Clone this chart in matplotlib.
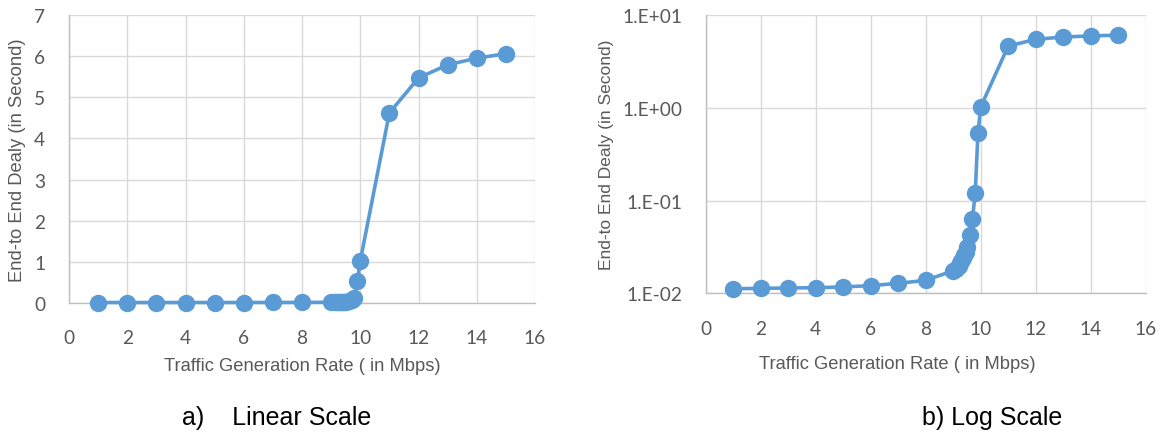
import matplotlib
matplotlib.use("Agg")
import math
import matplotlib.pyplot as plt
from matplotlib.ticker import FixedLocator, FuncFormatter

# traffic rate (Mbps) and end-to-end delay (s)
rate = [1, 2, 3, 4, 5, 6, 7, 8,
        9.0, 9.1, 9.2, 9.25, 9.3, 9.35, 9.4, 9.45, 9.5,
        9.6, 9.7, 9.8, 9.9, 10.0,
        11, 12, 13, 14, 15]
delay = [0.0112, 0.0113, 0.0114, 0.0115, 0.0117, 0.0121, 0.0128, 0.0138,
         0.0175, 0.0185, 0.0198, 0.021, 0.0222, 0.0238, 0.0256, 0.0282, 0.0313,
         0.0425, 0.063, 0.12, 0.53, 1.02,
         4.62, 5.47, 5.79, 5.95, 6.06]

xticks = [0, 2, 4, 6, 8, 10, 12, 14, 16]
lin_ticks = [0, 1, 2, 3, 4, 5, 6, 7]
log_ticks = [0.01, 0.1, 1, 10]

blue = "#5b9bd5"
grid = "#d9d9d9"
txt = "#595959"
tickfont = "Lato"
labfont = "Liberation Sans"

fig = plt.figure(figsize=(11.66, 4.35), dpi=100)
ax1 = fig.add_axes([0.05918, 0.30115, 0.39966, 0.66207])
ax2 = fig.add_axes([0.60523, 0.32345, 0.37736, 0.63977])


def style(ax):
    ax.set_xlim(0, 16)
    ax.xaxis.set_major_locator(FixedLocator(xticks))
    ax.grid(True, color=grid, linewidth=1.0)
    ax.set_axisbelow(True)
    for s in ["top", "right"]:
        ax.spines[s].set_visible(False)
    for s in ["left", "bottom"]:
        ax.spines[s].set_color("#bfbfbf")
        ax.spines[s].set_linewidth(1.0)
    ax.tick_params(length=0, labelcolor=txt, labelsize=13.8)
    ax.tick_params(axis="y", pad=17)
    ax.tick_params(axis="x", pad=19)
    for lab in ax.get_xticklabels() + ax.get_yticklabels():
        lab.set_fontfamily(tickfont)
    ax.plot(rate, delay, "-o", color=blue, linewidth=2.6, markersize=11.5,
            clip_on=False, zorder=3)
    ax.set_xlabel("Traffic Generation Rate ( in Mbps)", fontsize=13.2,
                  color=txt, family=labfont, labelpad=8)
    ax.set_ylabel("End-to End Dealy (in Second)", fontsize=13.2,
                  color=txt, family=labfont)


# a) linear
ax1.set_ylim(0, 7)
ax1.yaxis.set_major_locator(FixedLocator(lin_ticks))
style(ax1)
ax1.yaxis.set_label_coords(-0.093, 0.5)

# b) log
ax2.set_yscale("log")
ax2.set_ylim(0.01, 10)
ax2.yaxis.set_major_locator(FixedLocator(log_ticks))
ax2.yaxis.set_minor_locator(FixedLocator([]))
ax2.yaxis.set_major_formatter(FuncFormatter(lambda v, p: "1.E%+03d" % round(math.log10(v))))
style(ax2)
ax2.xaxis.set_label_coords(0.435, -0.22)
ax2.yaxis.set_label_coords(-0.208, 0.5)
ax2.yaxis.label.set_fontsize(12.5)

fig.text(0.2375, 1 - 418 / 435, "a)    Linear Scale", ha="center", va="center",
         fontsize=18, family=labfont)
fig.text(0.851, 1 - 418 / 435, "b) Log Scale", ha="center", va="center",
         fontsize=18, family=labfont)

fig.savefig("out.png", dpi=100)
